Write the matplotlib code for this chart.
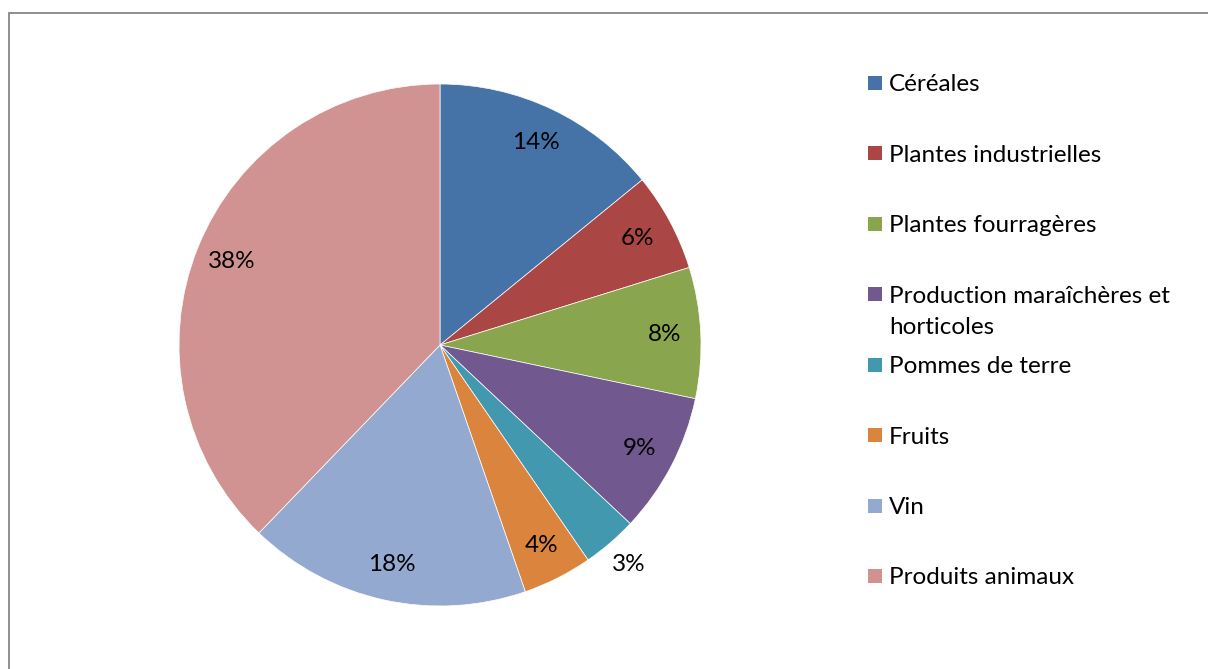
import matplotlib
matplotlib.use("Agg")
import matplotlib.pyplot as plt
from matplotlib.patches import Rectangle
import numpy as np

plt.rcParams["font.family"] = ["Lato", "DejaVu Sans"]

CATEGORIES = [
    "Céréales",
    "Plantes industrielles",
    "Plantes fourragères",
    "Production maraîchères et\nhorticoles",
    "Pommes de terre",
    "Fruits",
    "Vin",
    "Produits animaux",
]
SHARES = [14.1, 6.1, 8.1, 8.7, 3.4, 4.3, 17.5, 37.8]
COLORS = ["#4572A7", "#AA4643", "#89A54E", "#71588F",
          "#4198AF", "#DB843D", "#93A9CF", "#D19392"]
OUTSIDE = {"Pommes de terre"}
FS = 17.5

W, H = 1208, 669
fig = plt.figure(figsize=(W / 100, H / 100), dpi=100)

# chart frame, cut off at the right and bottom like the source screenshot
fig.patches.append(Rectangle((8.5 / W, -0.1), 1.2, (H - 12.5) / H + 0.1,
                             transform=fig.transFigure, fill=False,
                             edgecolor="#868686", linewidth=1.3))

cx, cy, r = 440, 345, 261
pad = 1.1
ax = fig.add_axes([(cx - r * pad) / W, (H - cy - r * pad) / H,
                   2 * r * pad / W, 2 * r * pad / H])
wedges, texts, autotexts = ax.pie(
    SHARES, colors=COLORS, startangle=90, counterclock=False,
    autopct=lambda p: f"{p:.0f}%", pctdistance=0.86,
    wedgeprops=dict(edgecolor="white", linewidth=0.5),
    textprops=dict(fontsize=FS, color="black"),
)
for w, t, name in zip(wedges, autotexts, CATEGORIES):
    if name in OUTSIDE:
        ang = np.deg2rad((w.theta1 + w.theta2) / 2)
        t.set_position((1.11 * np.cos(ang), 1.11 * np.sin(ang)))
ax.set_xlim(-pad, pad)
ax.set_ylim(-pad, pad)
ax.set_aspect("equal")
ax.axis("off")

# legend drawn by hand so the two-line entry hangs below its slot
y0, step = 82.5, 70.5
for i, (name, col) in enumerate(zip(CATEGORIES, COLORS)):
    y = y0 + i * step
    fig.patches.append(Rectangle((868 / W, (H - y - 7) / H), 14 / W, 14 / H,
                                 transform=fig.transFigure, facecolor=col,
                                 edgecolor="none"))
    lines = name.split("\n")
    for k, line in enumerate(lines):
        fig.text(889 / W, (H - y - 31 * k) / H, line, fontsize=FS,
                 va="center_baseline", ha="left")

fig.savefig("out.png", dpi=100)
